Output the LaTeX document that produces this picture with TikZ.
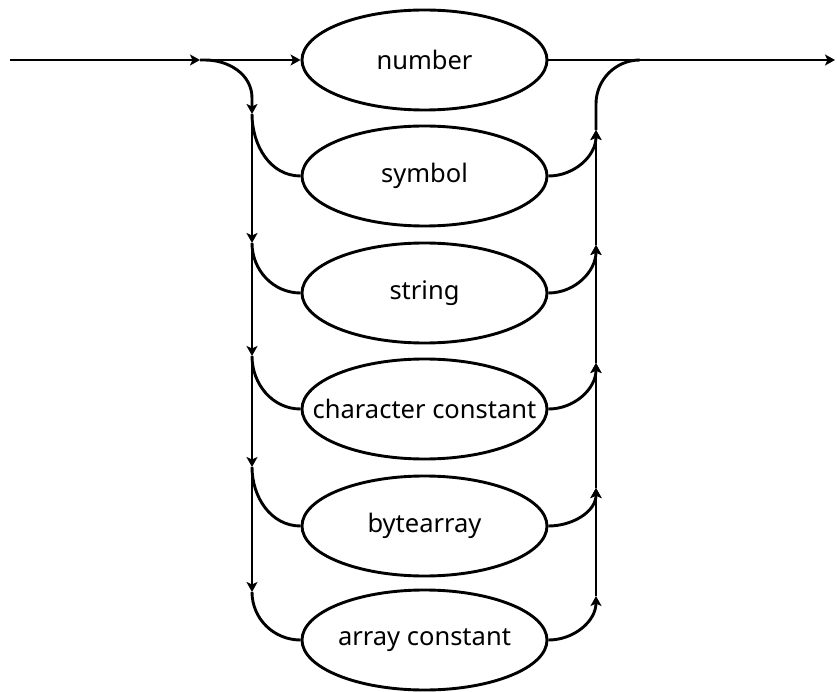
\documentclass[tikz,border=0pt]{standalone}
\usepackage{fontspec}
\setmainfont{Noto Sans}
\usetikzlibrary{shapes.geometric,arrows.meta}
\newcommand\mylbl[1]{\makebox[0pt]{#1}}
\begin{document}
\begin{tikzpicture}[x=1pt,y=-1pt, line width=2.9pt,
  term/.style={ellipse, draw, minimum width=245pt, minimum height=100pt, inner sep=0pt, font=\fontsize{25.5}{30}\selectfont},
  tip/.style={-{Stealth[length=10pt,width=11pt,inset=2.5pt]}}]
\useasboundingbox (0,0) rectangle (837,692);
\node[term] (n1) at (424.5,60) {\mylbl{number}};
\node[term] (n2) at (424.5,176) {\mylbl{symbol}};
\node[term] (n3) at (424.5,293) {\mylbl{string}};
\node[term] (n4) at (424.5,409) {\mylbl{character constant}};
\node[term] (n5) at (424.5,526) {\mylbl{bytearray}};
\node[term] (n6) at (424.5,640) {\mylbl{array constant}};
% main line
\coordinate (start) at (10,60);
\coordinate (j0) at (200,60);
\coordinate (c0) at (205,60);
\coordinate (c1) at (252,98);
\coordinate (end) at (835,60);
% left vertical
\coordinate (L1) at (252,114);
\coordinate (L2) at (252,243);
\coordinate (L3) at (252,356);
\coordinate (L4) at (252,467);
\coordinate (L5) at (252,592);
% right vertical
\coordinate (R2) at (596,130);
\coordinate (R3) at (596,245);
\coordinate (R4) at (596,363);
\coordinate (R5) at (596,488);
\coordinate (R6) at (596,596);
\coordinate (rc1) at (596,104);
\coordinate (rc0) at (640,60);
\draw[tip] (start) -- (j0);
\draw[tip] (j0) -- (n1.west);
\draw[tip] (j0) -- (c0) to[out=0,in=90] (c1) -- (L1);
\draw[tip] (L1) -- (L2);
\draw[tip] (L2) -- (L3);
\draw[tip] (L3) -- (L4);
\draw[tip] (L4) -- (L5);
\draw (L1) to[out=-90,in=180] (n2.west);
\draw (L2) to[out=-90,in=180] (n3.west);
\draw (L3) to[out=-90,in=180] (n4.west);
\draw (L4) to[out=-90,in=180] (n5.west);
\draw (L5) to[out=-90,in=180] (n6.west);
\draw[tip] (n2.east) to[out=0,in=-90] (R2);
\draw[tip] (n3.east) to[out=0,in=-90] (R3);
\draw[tip] (n4.east) to[out=0,in=-90] (R4);
\draw[tip] (n5.east) to[out=0,in=-90] (R5);
\draw[tip] (n6.east) to[out=0,in=-90] (R6);
\draw[tip] (R6) -- (R5);
\draw[tip] (R5) -- (R4);
\draw[tip] (R4) -- (R3);
\draw[tip] (R3) -- (R2);
\draw (R2) -- (rc1) to[out=90,in=180] (rc0);
\draw[tip] (n1.east) -- (end);
\end{tikzpicture}
\end{document}
